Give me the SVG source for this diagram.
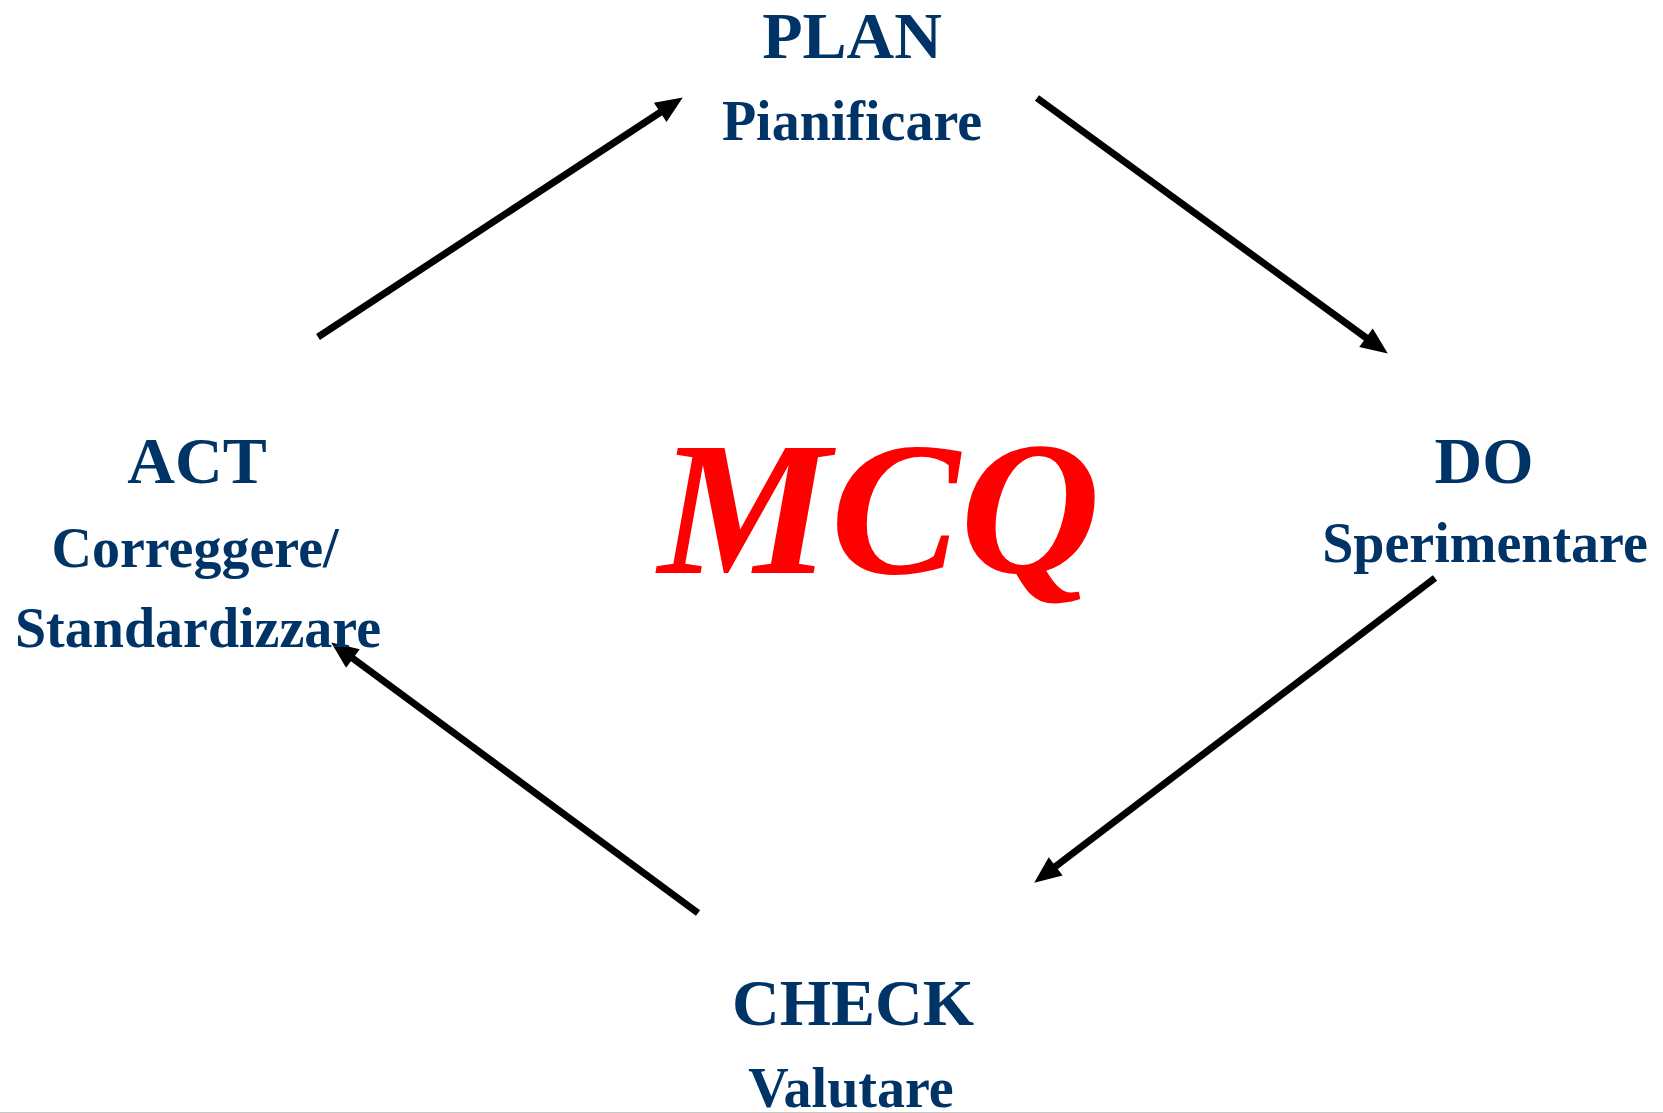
<svg xmlns="http://www.w3.org/2000/svg" width="1663" height="1113" viewBox="0 0 1663 1113">
<style>
.t{font-family:"Liberation Serif","Times New Roman",serif;font-weight:bold;fill:#003366;text-anchor:middle}
.h{font-size:66px}
.s{font-size:56px}
.c{stroke:#000;stroke-width:7;fill:none;marker-end:url(#ah)}
</style>
<defs>
<marker id="ah" markerUnits="userSpaceOnUse" markerWidth="27" markerHeight="23" refX="2" refY="11.5" orient="auto" overflow="visible">
<path d="M0,0 L27,11.5 L0,23 z" fill="#000"/>
</marker>
</defs>
<rect width="1663" height="1113" fill="#fff"/>
<g id="connectors">
<line class="c" x1="318" y1="337" x2="661.9" y2="111.2"/>
<line class="c" x1="1037" y1="98" x2="1367.6" y2="338.9"/>
<line class="c" x1="1435" y1="578" x2="1054.1" y2="867.5"/>
<line class="c" x1="698" y1="913" x2="351.3" y2="657.3"/>
</g>
<g id="plan">
<text class="t h" x="852" y="58">PLAN</text>
<text class="t s" x="852" y="140">Pianificare</text>
</g>
<g id="do">
<text class="t h" x="1484" y="483">DO</text>
<text class="t s" x="1485" y="562">Sperimentare</text>
</g>
<g id="check">
<text class="t h" x="853" y="1025">CHECK</text>
<text class="t s" x="851" y="1107">Valutare</text>
</g>
<g id="act">
<text class="t h" x="197" y="483">ACT</text>
<text class="t s" x="195" y="567">Correggere/</text>
<text class="t s" x="198" y="647">Standardizzare</text>
</g>
<g id="mcq">
<text x="879" y="573" font-family="'Liberation Serif',serif" font-weight="bold" font-style="italic" font-size="190" fill="#ff0000" text-anchor="middle" textLength="442" lengthAdjust="spacingAndGlyphs">MCQ</text>
</g>
<line x1="0" y1="1112.5" x2="1663" y2="1112.5" stroke="#c8c8c8" stroke-width="1"/>
</svg>
